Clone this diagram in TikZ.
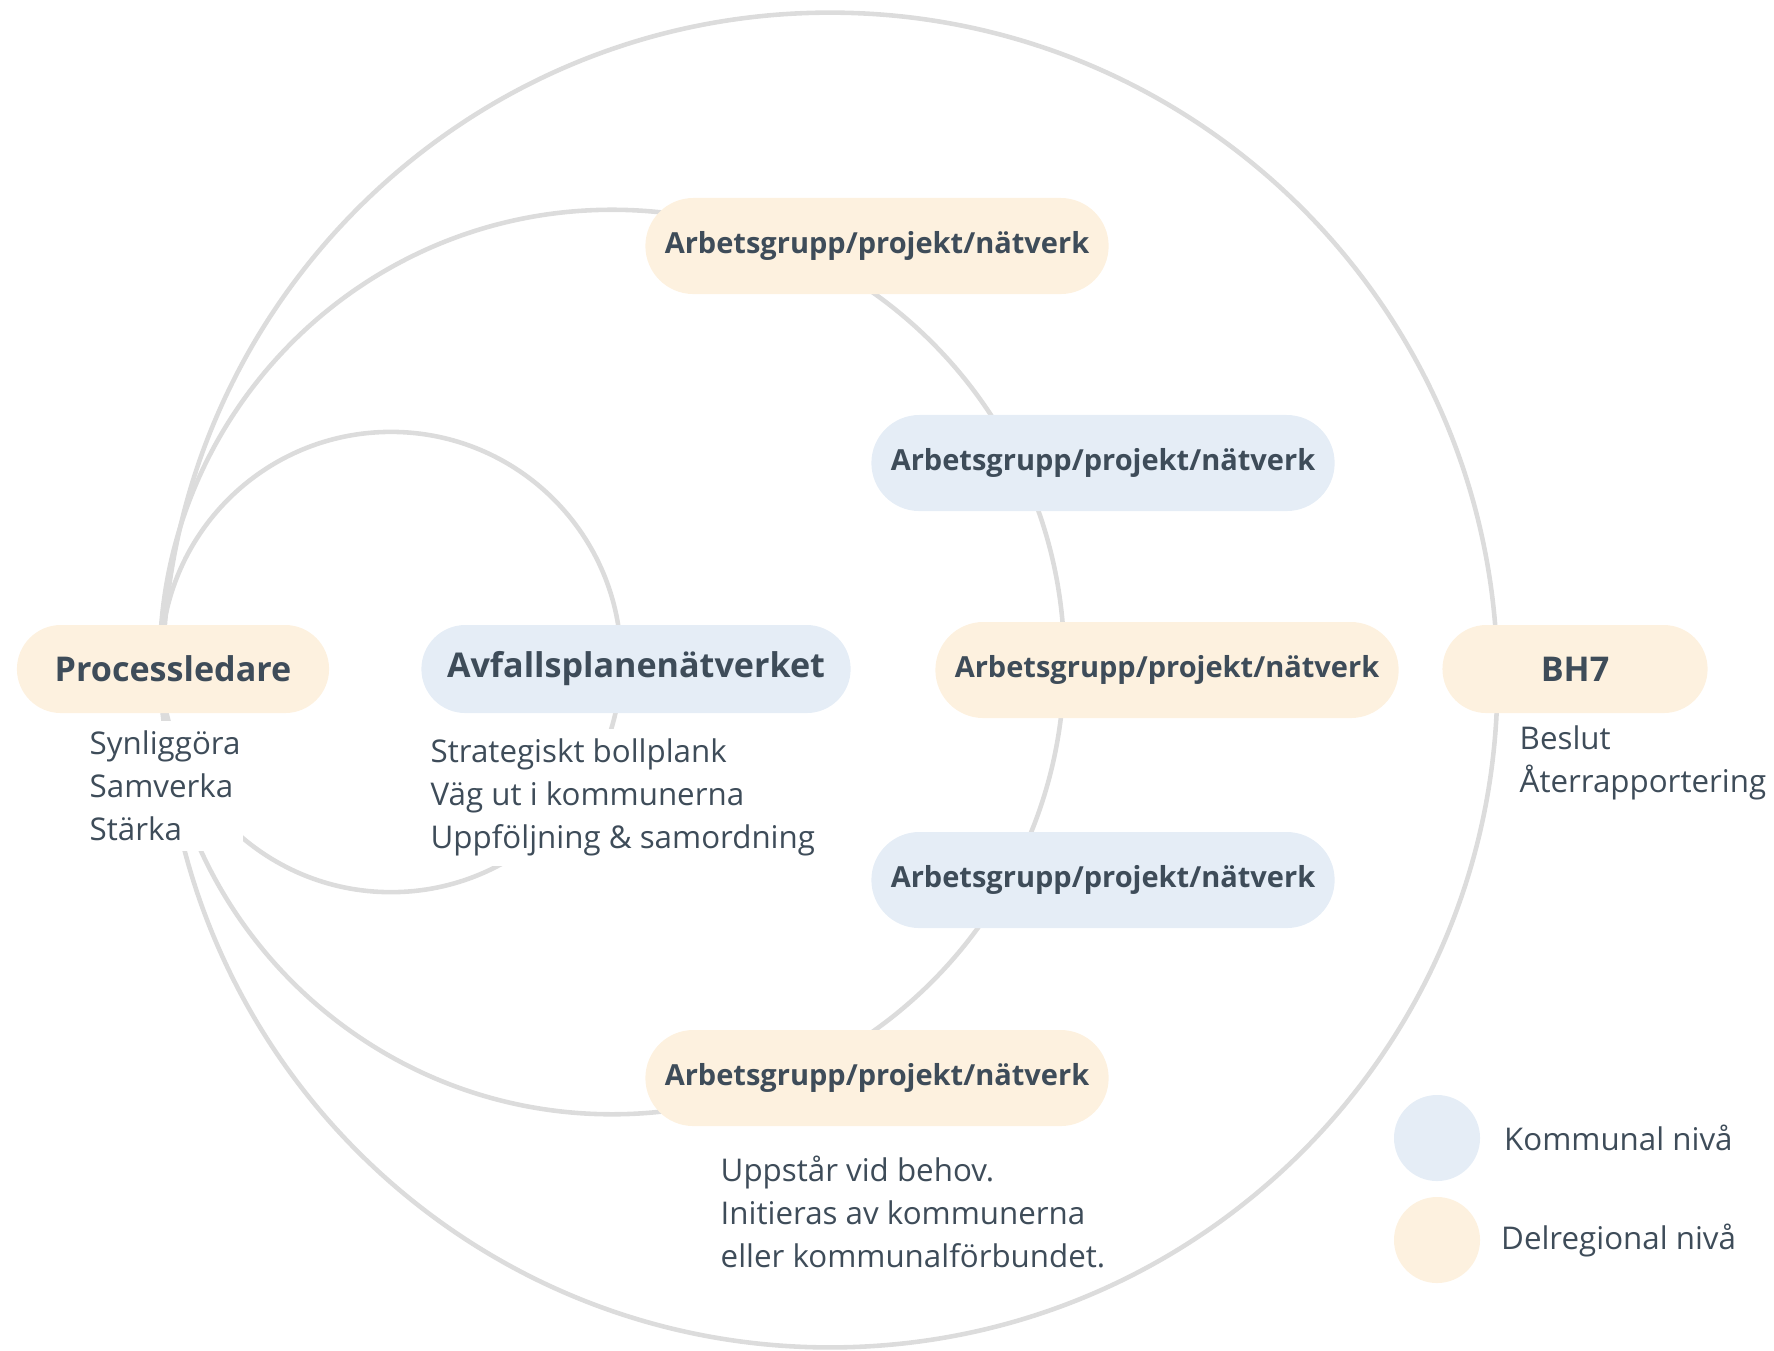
\documentclass[tikz,border=0pt]{standalone}
\usepackage{fontspec}
\setmainfont{Open Sans}
\usetikzlibrary{positioning}
\definecolor{delreg}{HTML}{FDF1DF}
\definecolor{kommun}{HTML}{E5EDF6}
\definecolor{ink}{HTML}{3E4C59}
\definecolor{ringgray}{HTML}{DCDCDC}

\begin{document}
\begin{tikzpicture}[x=0.01cm, y=-0.01cm,
ring/.style={draw=ringgray, line width=1.3pt},
pill/.style={rounded corners=0.44cm, minimum height=0.88cm, inner sep=0, text=ink, font=\bfseries\fontsize{9.7}{11}\selectfont},
group/.style={pill, rounded corners=0.48cm, minimum height=0.96cm, minimum width=4.63cm, font=\bfseries\fontsize{8.25}{10}\selectfont},
notes/.style={anchor=north west, align=left, fill=white, text=ink, inner xsep=0.03cm, inner ysep=0.1cm, font=\fontsize{8.9}{12.2}\selectfont},
legend/.style={circle, minimum size=0.86cm, inner sep=0},
legendtext/.style={text=ink, font=\fontsize{8.9}{12.2}\selectfont},
]
\useasboundingbox (0,0) rectangle (1774,1350);

%%%%%%%%%%%%%%%%%%%%%%%% CIRKLAR %%%%%%%%%%%%%%%%%%%%%%%%%%%
\coordinate (Outer) at (830,680);
\coordinate (Middle) at (612,662);
\coordinate (Inner) at (391,662);
\draw[ring] (Outer) circle[radius=6.67cm];
\draw[ring] (Middle) circle[radius=4.52cm];
\draw[ring] (Inner) circle[radius=2.30cm];

%%%%%%%%% TEXT %%%%%%%%%%%%%
\node[notes] (processtext) at (86,720) {Synliggöra\\Samverka\\Stärka};
\node[notes] (avfalltext) at (427,728) {Strategiskt bollplank\\Väg ut i kommunerna\\Uppföljning \& samordning};
\node[notes] (bh7text) at (1516,715) {Beslut\\Återrapportering};
\node[notes] (gruppetext) at (717,1145) {Uppstår vid behov.\\Initieras av kommunerna\\eller kommunalförbundet.};

%%%%%%%%%%%%%%%%%%%%%%%% NODER %%%%%%%%%%%%%%%%%%%%%%%%%%%
\node[pill, fill=delreg, minimum width=3.12cm] (process) at (173,669) {Processledare};
\node[pill, fill=kommun, minimum width=4.29cm] (avfall) at (636,669) {Avfallsplanenätverket};
\node[pill, fill=delreg, minimum width=2.65cm] (bh7) at (1575,669) {BH7};

\node[group, fill=delreg] (grupp1) at (877,246) {Arbetsgrupp/projekt/nätverk};
\node[group, fill=kommun] (grupp2) at (1103,463) {Arbetsgrupp/projekt/nätverk};
\node[group, fill=delreg] (grupp3) at (1167,670) {Arbetsgrupp/projekt/nätverk};
\node[group, fill=kommun] (grupp4) at (1103,880) {Arbetsgrupp/projekt/nätverk};
\node[group, fill=delreg] (grupp5) at (877,1078) {Arbetsgrupp/projekt/nätverk};

%%%%%%%%%%%%%%%%%%%%%%%% LEGEND %%%%%%%%%%%%%%%%%%%%%%%%%%%
\node[legend, fill=kommun] (kommunal) at (1437,1138) {};
\node[legend, fill=delreg] (delregional) at (1437,1240) {};
\node[legendtext, right=0.11cm of kommunal] (kommunaltext) {Kommunal nivå};
\node[legendtext, right=0.08cm of delregional] (delregionaltext) {Delregional nivå};

\end{tikzpicture}
\end{document}
